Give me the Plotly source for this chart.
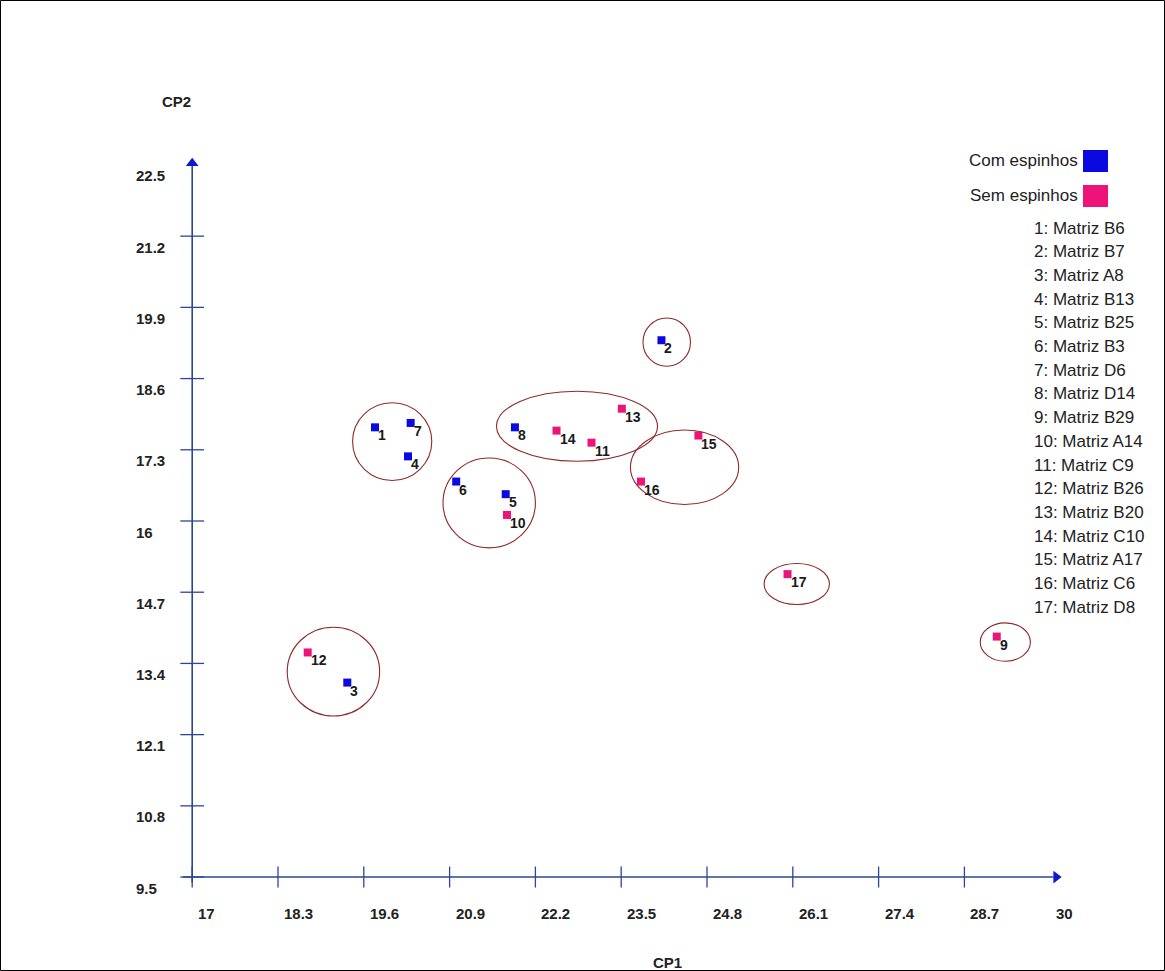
import plotly.graph_objects as go

# Principal component scores (CP1, CP2) for each matrix
ids = [1, 2, 3, 4, 5, 6, 7, 8, 9, 10, 11, 12, 13, 14, 15, 16, 17]
cp1 = [19.77, 24.11, 19.35, 20.27, 21.75, 21.00, 20.31, 21.89, 29.19, 21.77,
       23.05, 18.75, 23.51, 22.52, 24.67, 23.80, 26.02]
cp2 = [17.71, 19.30, 13.05, 17.18, 16.49, 16.72, 17.79, 17.71, 13.89, 16.11,
       17.43, 13.60, 18.05, 17.65, 17.56, 16.72, 15.03]
group = ["Com", "Com", "Com", "Com", "Com", "Com", "Com", "Com", "Sem", "Sem",
         "Sem", "Sem", "Sem", "Sem", "Sem", "Sem", "Sem"]
names = ["Matriz B6", "Matriz B7", "Matriz A8", "Matriz B13", "Matriz B25",
         "Matriz B3", "Matriz D6", "Matriz D14", "Matriz B29", "Matriz A14",
         "Matriz C9", "Matriz B26", "Matriz B20", "Matriz C10", "Matriz A17",
         "Matriz C6", "Matriz D8"]

# Cluster outlines: centre and half-widths in axis units
clu_cx = [20.03, 21.50, 24.19, 22.83, 24.46, 19.14, 26.16, 29.32]
clu_cy = [17.45, 16.33, 19.265, 17.73, 16.98, 13.25, 14.85, 13.79]
clu_rx = [0.60, 0.70, 0.36, 1.22, 0.82, 0.70, 0.495, 0.38]
clu_ry = [0.71, 0.82, 0.44, 0.64, 0.68, 0.81, 0.374, 0.35]

x_ticks = [17, 18.3, 19.6, 20.9, 22.2, 23.5, 24.8, 26.1, 27.4, 28.7, 30]
y_ticks = [9.5, 10.8, 12.1, 13.4, 14.7, 16, 17.3, 18.6, 19.9, 21.2, 22.5]
x_range = [16.8, 30.3]
y_range = [9.3, 22.7]
x_origin, y_origin = 17, 9.5
x_tip, y_tip = 30.15, 22.6

group_colors = {"Com": "#0A0AE0", "Sem": "#EC1478"}
group_labels = {"Com": "Com espinhos", "Sem": "Sem espinhos"}

W, H = 1165, 971
ML, MR, MT, MB = 179, 95, 154, 83
PW, PH = W - ML - MR, H - MT - MB


def px(xp):
    return (xp - ML) / PW


def py(yp):
    return (H - MB - yp) / PH


AXIS = "#2A4696"
ARROW = "#0A1AD0"
FONT = "Liberation Sans, Arial"
TICKFONT = dict(family=FONT, size=15, color="#222222")

fig = go.Figure()

# tick marks crossing each axis
fig.add_trace(go.Scatter(
    x=x_ticks[:-1], y=[y_origin] * (len(x_ticks) - 1), mode="markers",
    marker=dict(symbol="line-ns", size=15, line=dict(color=AXIS, width=1.3)),
    hoverinfo="skip", showlegend=False))
fig.add_trace(go.Scatter(
    x=[x_origin] * (len(y_ticks) - 1), y=y_ticks[:-1], mode="markers",
    marker=dict(symbol="line-ew", size=17, line=dict(color=AXIS, width=1.3)),
    hoverinfo="skip", showlegend=False))

# arrow heads at the ends of the axes
fig.add_trace(go.Scatter(
    x=[x_tip - 0.06], y=[y_origin], mode="markers",
    marker=dict(symbol="triangle-right", size=11, color=ARROW),
    hoverinfo="skip", showlegend=False))
fig.add_trace(go.Scatter(
    x=[x_origin], y=[y_tip - 0.07], mode="markers",
    marker=dict(symbol="triangle-up", size=11, color=ARROW),
    hoverinfo="skip", showlegend=False))

# points per group
for g in ["Com", "Sem"]:
    idx = [i for i, v in enumerate(group) if v == g]
    fig.add_trace(go.Scatter(
        x=[cp1[i] for i in idx], y=[cp2[i] for i in idx], mode="markers",
        marker=dict(symbol="square", size=8, color=group_colors[g]),
        name=group_labels[g], showlegend=False,
        text=[names[i] for i in idx]))

shapes = []
annotations = []

# axis lines
shapes.append(dict(type="line", xref="x", yref="y", x0=x_range[0] + 0.06,
                   x1=x_tip - 0.1, y0=y_origin, y1=y_origin,
                   line=dict(color=AXIS, width=1.6), layer="below"))
shapes.append(dict(type="line", xref="x", yref="y", x0=x_origin, x1=x_origin,
                   y0=y_origin - 0.1, y1=y_tip - 0.1,
                   line=dict(color=AXIS, width=1.6), layer="below"))

# cluster ellipses
for cx, cy, rx, ry in zip(clu_cx, clu_cy, clu_rx, clu_ry):
    shapes.append(dict(type="circle", xref="x", yref="y",
                       x0=cx - rx, x1=cx + rx, y0=cy - ry, y1=cy + ry,
                       line=dict(color="#8E2A2A", width=1.1), layer="above"))

# tick labels
for t in x_ticks:
    annotations.append(dict(x=t, y=y_origin, xref="x", yref="y",
                            text="<b>%g</b>" % t, showarrow=False,
                            xanchor="left", yanchor="middle",
                            xshift=4, yshift=-36, font=TICKFONT))
for t in y_ticks:
    annotations.append(dict(x=x_origin, y=t, xref="x", yref="y",
                            text="<b>%g</b>" % t, showarrow=False,
                            xanchor="left", yanchor="middle",
                            xshift=-58, yshift=-11, font=TICKFONT))

# axis titles
annotations.append(dict(x=px(667), y=py(963), xref="paper", yref="paper",
                        text="<b>CP1</b>", showarrow=False, font=TICKFONT,
                        xanchor="center", yanchor="middle"))
annotations.append(dict(x=px(176), y=py(101), xref="paper", yref="paper",
                        text="<b>CP2</b>", showarrow=False, font=TICKFONT,
                        xanchor="center", yanchor="middle"))

# point number labels
for i, x, y in zip(ids, cp1, cp2):
    annotations.append(dict(x=x, y=y, xref="x", yref="y", text="<b>%d</b>" % i,
                            showarrow=False, xanchor="left", yanchor="middle",
                            xshift=1, yshift=-8,
                            font=dict(family=FONT, size=14, color="#1A1A1A")))

# group key: text followed by a coloured square
LEGFONT = dict(family=FONT, size=17, color="#222222")
for k, g in enumerate(["Com", "Sem"]):
    yc = 161 + k * 35
    annotations.append(dict(x=px(1080), y=py(yc), xref="paper", yref="paper",
                            text=group_labels[g], showarrow=False,
                            xanchor="right", yanchor="middle", font=LEGFONT))
    shapes.append(dict(type="rect", xref="paper", yref="paper",
                       x0=px(1083), x1=px(1108), y0=py(yc + 11), y1=py(yc - 11),
                       fillcolor=group_colors[g], line=dict(width=0)))

# numbered name list
for k, (i, n) in enumerate(zip(ids, names)):
    annotations.append(dict(x=px(1032), y=py(228 + k * 23.7), xref="paper",
                            yref="paper", text="%d: %s" % (i, n),
                            showarrow=False, xanchor="left", yanchor="middle",
                            font=LEGFONT))

# outer frame
shapes.append(dict(type="rect", xref="paper", yref="paper",
                   x0=px(0.5), x1=px(W - 0.5), y0=py(H - 0.5), y1=py(0.5),
                   line=dict(color="#000000", width=1)))

fig.update_layout(
    width=W, height=H,
    margin=dict(l=ML, r=MR, t=MT, b=MB, pad=0),
    paper_bgcolor="white", plot_bgcolor="white",
    xaxis=dict(range=x_range, visible=False, fixedrange=True),
    yaxis=dict(range=y_range, visible=False, fixedrange=True),
    shapes=shapes, annotations=annotations, showlegend=False,
)

fig.write_html("out.html")
